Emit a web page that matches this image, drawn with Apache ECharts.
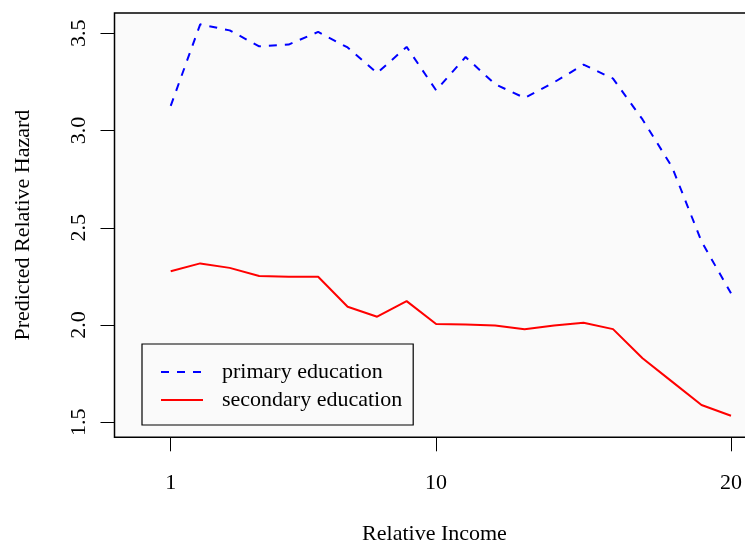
<!DOCTYPE html>
<html>
<head>
<meta charset="utf-8">
<script src="https://cdn.jsdelivr.net/npm/echarts@6/dist/echarts.min.js"></script>
<style>
  html, body { margin: 0; padding: 0; background: #ffffff; }
  #chart { width: 745px; height: 543px; }
</style>
</head>
<body>
<div id="chart"></div>
<script>
var income = [1, 2, 3, 4, 5, 6, 7, 8, 9, 10, 11, 12, 13, 14, 15, 16, 17, 18, 19, 20];
var primary = [3.127, 3.546, 3.515, 3.433, 3.442, 3.507, 3.427, 3.296, 3.430, 3.207,
               3.378, 3.238, 3.168, 3.248, 3.339, 3.267, 3.057, 2.813, 2.430, 2.163];
var secondary = [2.277, 2.317, 2.294, 2.252, 2.248, 2.248, 2.094, 2.043, 2.123, 2.005,
                 2.003, 1.998, 1.978, 1.998, 2.012, 1.979, 1.829, 1.709, 1.589, 1.534];
var xTicks = [1, 10, 20];
var yTicks = [1.5, 2.0, 2.5, 3.0, 3.5];
var seriesNames = ['primary education', 'secondary education'];
var xTitle = 'Relative Income';
var yTitle = 'Predicted Relative Hazard';

function pairs(xs, ys) { return xs.map(function (x, i) { return [x, ys[i]]; }); }

var FONT = "'Liberation Serif', 'Times New Roman', serif";
var chart = echarts.init(document.getElementById('chart'), null, { renderer: 'canvas' });
chart.setOption({
  backgroundColor: '#ffffff',
  animation: false,
  textStyle: { fontFamily: FONT },
  grid: {
    left: 114.5, top: 13, width: 640, height: 424.3,
    outerBoundsMode: 'none', containLabel: false,
    show: true, backgroundColor: '#fafafa', borderColor: '#000000', borderWidth: 1.5
  },
  legend: {
    orient: 'vertical',
    left: 142, top: 344,
    width: 273,
    data: seriesNames,
    borderColor: '#000000', borderWidth: 1.2,
    padding: [17, 11, 14, 18],
    itemWidth: 42, itemHeight: 14, itemGap: 6,
    itemStyle: { color: 'rgba(0,0,0,0)', borderWidth: 0 },
    textStyle: { fontFamily: FONT, fontSize: 22, color: '#000000', padding: [0, 0, 0, 14] }
  },
  xAxis: {
    type: 'value',
    min: -0.906, max: 20.797,
    name: xTitle, nameLocation: 'middle', nameGap: 86,
    nameTextStyle: { fontFamily: FONT, fontSize: 22, color: '#000000' },
    axisLine: { show: false, onZero: false },
    splitLine: { show: false },
    axisTick: { show: true, inside: false, length: 14, customValues: xTicks,
                lineStyle: { color: '#000000', width: 1 } },
    axisLabel: { customValues: xTicks, margin: 35, fontFamily: FONT, fontSize: 22, color: '#000000' }
  },
  yAxis: {
    type: 'value',
    min: 1.4229, max: 3.6043,
    name: yTitle, nameLocation: 'middle', nameGap: 80, nameRotate: 90,
    nameTextStyle: { fontFamily: FONT, fontSize: 22, color: '#000000' },
    axisLine: { show: false, onZero: false },
    splitLine: { show: false },
    axisTick: { show: true, inside: false, length: 14, customValues: yTicks,
                lineStyle: { color: '#000000', width: 1 } },
    axisLabel: { customValues: yTicks, rotate: 90, margin: 24, fontFamily: FONT, fontSize: 22, color: '#000000',
                 formatter: function (v) { return v.toFixed(1); } }
  },
  series: [
    {
      name: seriesNames[0], type: 'line', data: pairs(income, primary),
      symbol: 'none', clip: false,
      lineStyle: { color: '#0000ff', width: 2, type: [8, 8] },
      itemStyle: { color: '#0000ff' }
    },
    {
      name: seriesNames[1], type: 'line', data: pairs(income, secondary),
      symbol: 'none', clip: false,
      lineStyle: { color: '#ff0000', width: 2, type: 'solid' },
      itemStyle: { color: '#ff0000' }
    }
  ]
});
</script>
</body>
</html>
